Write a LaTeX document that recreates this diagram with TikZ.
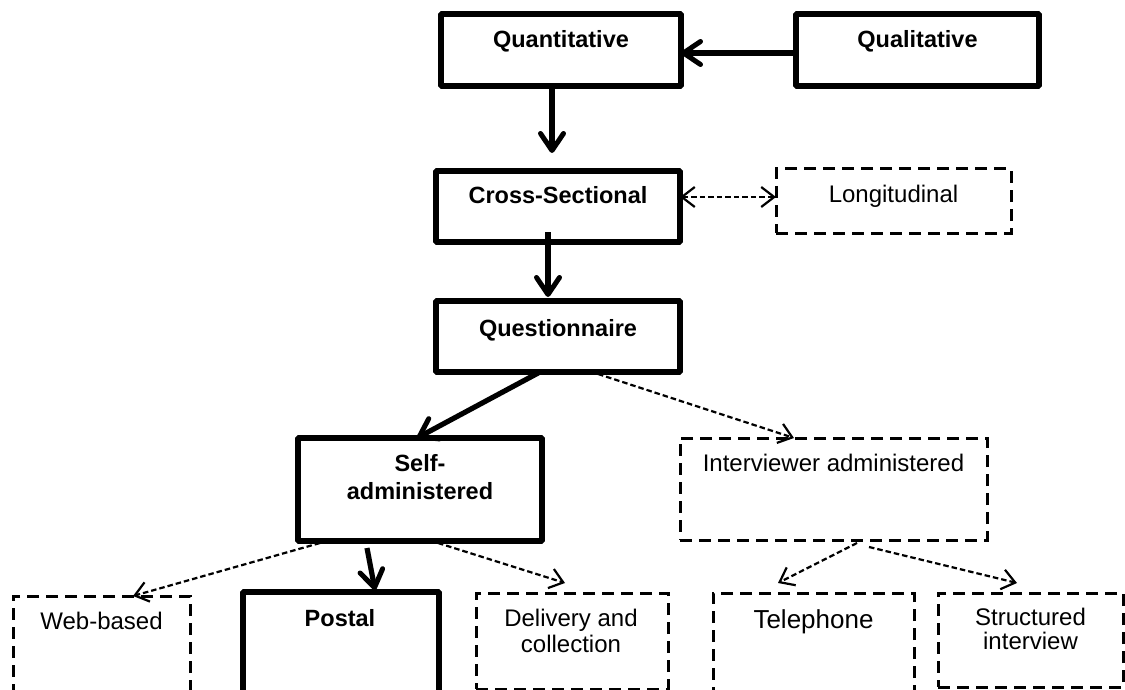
\documentclass[tikz,border=0pt]{standalone}
\usepackage{fontspec}
\setmainfont{Liberation Sans}
\usetikzlibrary{arrows.meta,calc}
\tikzset{
  thickbarb/.tip={Straight Barb[length=17pt,width=23pt,line width=5pt,round]},
  thinbarb/.tip={Straight Barb[length=13pt,width=20pt,line width=2.2pt]},
}
\begin{document}
\begin{tikzpicture}[x=1pt,y=-1pt,
  solidbox/.style={draw, rectangle, line width=5.8pt, inner sep=0pt, outer sep=0pt, rounded corners=1pt},
  dashbox/.style={draw, rectangle, line width=3pt, dash pattern=on 12pt off 7pt, inner sep=0pt, outer sep=0pt},
  boldlabel/.style={font=\fontsize{23.5}{28}\selectfont\bfseries, inner sep=0pt, align=center},
  plainlabel/.style={font=\fontsize{24}{26}\selectfont, inner sep=0pt, align=center},
  mainflow/.style={line width=5.2pt, -{thickbarb}},
  altflow/.style={line width=2.2pt, dash pattern=on 5.5pt off 3pt, -{thinbarb}},
]
\useasboundingbox (0,0) rectangle (1125,690);
\clip (0,0) rectangle (1125,690);

% boxes: solid = chosen design, dashed = alternatives
\node[solidbox, minimum width=240pt, minimum height=72pt] (quant)  at (561,50) {};
\node[solidbox, minimum width=243pt, minimum height=72pt] (qual)   at (917.5,50) {};
\node[solidbox, minimum width=244pt, minimum height=71pt] (cross)  at (558,206.5) {};
\node[dashbox,  minimum width=235pt, minimum height=64pt] (longi)  at (893.5,201) {};
\node[solidbox, minimum width=244pt, minimum height=71pt] (quest)  at (558,336.5) {};
\node[solidbox, minimum width=244pt, minimum height=103pt] (self)  at (420,489.5) {};
\node[dashbox,  minimum width=307pt, minimum height=102pt] (inter) at (833.5,489) {};
\node[dashbox,  minimum width=177pt, minimum height=109pt] (web)   at (101.5,650.5) {};
\node[solidbox, minimum width=196pt, minimum height=113pt] (postal) at (341,648.5) {};
\node[dashbox,  minimum width=192pt, minimum height=96pt] (deliv)  at (572,641) {};
\node[dashbox,  minimum width=201pt, minimum height=112pt] (tel)   at (813.5,649) {};
\node[dashbox,  minimum width=185pt, minimum height=94pt] (struct) at (1030.5,640) {};

% labels
\node[boldlabel, anchor=base] (quant-t) at ($(quant.north)+(0,34)$) {Quantitative};
\node[boldlabel, anchor=base] (qual-t) at ($(qual.north)+(0,34)$) {Qualitative};
\node[boldlabel, anchor=base] (cross-t) at ($(cross.north)+(0,33)$) {Cross-Sectional};
\node[plainlabel, anchor=base] (longi-t) at ($(longi.north)+(0,33)$) {Longitudinal};
\node[boldlabel, anchor=base] (quest-t) at ($(quest.north)+(0,35)$) {Questionnaire};
\node[boldlabel, anchor=north] (self-t) at ($(self.north)+(0,16.6)$) {Self-\\administered};
\node[plainlabel, anchor=base] (inter-t) at ($(inter.north)+(0,33)$) {Interviewer administered};
\node[plainlabel, anchor=base] (web-t) at ($(web.north)+(0,33)$) {Web-based};
\node[boldlabel, anchor=base] (postal-t) at ($(postal.north)+(-1,34)$) {Postal};
\node[plainlabel, anchor=north] (deliv-t) at ($(deliv.north)+(-1,16)$) {Delivery and\\collection};
\node[plainlabel, font=\fontsize{26}{28}\selectfont, anchor=base] (tel-t) at ($(tel.north)+(0,35)$) {Telephone};
\node[plainlabel, font=\fontsize{24}{24}\selectfont, anchor=north] (struct-t) at ($(struct.north)+(0,15)$) {Structured\\interview};

% connectors
\draw[mainflow] ($(qual.west)+(0,3)$) -- ($(quant.east)+(0,3)$);

\coordinate (qa) at ($(quant.south)+(-9,0)$);
\draw[mainflow, shorten >=18pt] (qa) -- (qa |- cross.north);

\coordinate (cl) at ($(cross.east)+(0,-9.5)$);
\draw[altflow, {thinbarb}-{thinbarb}] (cl) -- (cl -| longi.west);

\coordinate (cq) at ($(cross.south)+(-10,-10)$);
\draw[mainflow, shorten >=4pt] (cq) -- (cq |- quest.north);

\draw[mainflow] ($(quest.south)+(-18,0)$) -- ($(self.north)+(-3,0)$);
\draw[altflow] ($(quest.south)+(40,2)$) -- ($(inter.north)+(-39.5,0)$);

\draw[altflow] ($(self.south)+(-100,2)$) -- ($(web.north)+(31.5,0)$);
\draw[mainflow] ($(self.south)+(-53,7)$) -- ($(postal.north)+(34,-2)$);
\draw[altflow] ($(self.south)+(18,2)$) -- ($(deliv.north)+(-7,-10)$);

\draw[altflow] ($(inter.south)+(23.5,3)$) -- ($(tel.north)+(-35.5,-10)$);
\draw[altflow] ($(inter.south)+(35.5,7)$) -- ($(struct.north)+(-13.5,-10)$);
\end{tikzpicture}
\end{document}
